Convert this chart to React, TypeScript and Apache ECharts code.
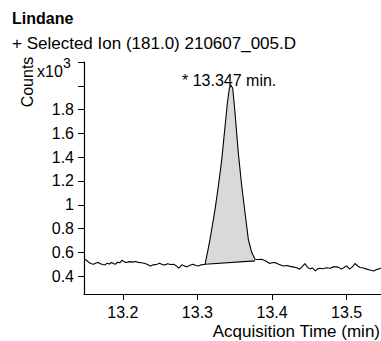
import React, { useEffect, useRef } from "react";
import * as echarts from "echarts";

// Retention time (min) and abundance (x10^3 counts) of the trace
const timeMin = [
  13.149, 13.152, 13.155, 13.158, 13.161, 13.164, 13.167, 13.17, 13.173, 13.176,
  13.179, 13.182, 13.185, 13.188, 13.19, 13.193, 13.196, 13.199, 13.202, 13.205,
  13.209, 13.213, 13.217, 13.221, 13.225, 13.23, 13.233, 13.237, 13.241, 13.246,
  13.249, 13.253, 13.257, 13.26, 13.264, 13.268, 13.271, 13.275, 13.279, 13.282,
  13.286, 13.29, 13.294, 13.298, 13.301, 13.305,
  13.3102, 13.3135, 13.3169, 13.3236, 13.328, 13.3326, 13.337, 13.3401, 13.3428, 13.3446,
  13.3473, 13.3504, 13.3548, 13.3594, 13.3638, 13.3682, 13.3728, 13.3772,
  13.381, 13.386, 13.391, 13.397, 13.4, 13.404, 13.409, 13.415, 13.42, 13.424,
  13.428, 13.433, 13.437, 13.441, 13.444, 13.447, 13.451, 13.454, 13.458, 13.461,
  13.464, 13.468, 13.473, 13.478, 13.482, 13.487, 13.49, 13.493, 13.497, 13.5,
  13.504, 13.508, 13.511, 13.515, 13.518, 13.522, 13.527, 13.531, 13.536, 13.54, 13.546,
];
const countsK = [
  0.542, 0.53, 0.512, 0.505, 0.5, 0.51, 0.515, 0.505, 0.498, 0.495,
  0.508, 0.502, 0.515, 0.505, 0.5, 0.518, 0.512, 0.534, 0.52, 0.515,
  0.522, 0.518, 0.523, 0.516, 0.512, 0.506, 0.498, 0.486, 0.495, 0.5,
  0.508, 0.497, 0.495, 0.505, 0.498, 0.5, 0.49, 0.467, 0.495, 0.488,
  0.478, 0.492, 0.5, 0.49, 0.486, 0.495,
  0.5, 0.6, 0.71, 0.961, 1.156, 1.379, 1.658, 1.853, 1.979, 2.007,
  1.979, 1.77, 1.435, 1.156, 0.933, 0.71, 0.598, 0.542,
  0.54, 0.542, 0.53, 0.506, 0.512, 0.515, 0.5, 0.486, 0.49, 0.482,
  0.478, 0.47, 0.459, 0.485, 0.506, 0.478, 0.459, 0.47, 0.444, 0.46,
  0.467, 0.462, 0.47, 0.467, 0.478, 0.478, 0.47, 0.459, 0.475, 0.486,
  0.459, 0.48, 0.506, 0.485, 0.473, 0.468, 0.459, 0.452, 0.444, 0.455, 0.467,
];

// Integration baseline of the peak
const integrationTime = [13.3102, 13.3772];
const integrationCounts = [0.5, 0.528];

// Axis ticks
const xTicks = [13.2, 13.3, 13.4, 13.5];
const yTicks = [0.4, 0.6, 0.8, 1.0, 1.2, 1.4, 1.6, 1.8, 2.0, 2.2];
const yTickLabels = [0.4, 0.6, 0.8, 1.0, 1.2, 1.4, 1.6, 1.8];

const compoundName = "Lindane";
const ionTitle = "+ Selected Ion (181.0) 210607_005.D";
const peakLabel = "* 13.347 min.";
const yName = "Counts";
const xName = "Acquisition Time (min)";

const FONT = "'Liberation Sans', Arial, sans-serif";

export default function App() {
  const ref = useRef<HTMLDivElement>(null);

  useEffect(() => {
    document.body.style.margin = "0";
    const chart = echarts.init(ref.current as HTMLDivElement, null, { renderer: "svg" });

    const trace = timeMin.map((t, i) => [t, countsK[i]]);
    const peakPts = trace.filter(
      (p) => p[0] >= integrationTime[0] && p[0] <= integrationTime[1]
    );
    const polygonData = [
      ...peakPts,
      [integrationTime[1], integrationCounts[1]],
      [integrationTime[0], integrationCounts[0]],
    ];

    const option: any = {
      animation: false,
      backgroundColor: "#ffffff",
      grid: { left: 84, right: 0, top: 62, bottom: 47, containLabel: false },
      xAxis: {
        type: "value",
        min: 13.148,
        max: 13.546,
        axisLine: { show: true, onZero: false, lineStyle: { color: "#000", width: 1.2 } },
        axisTick: {
          show: true,
          customValues: xTicks,
          length: 6,
          inside: false,
          lineStyle: { color: "#000", width: 1 },
        },
        axisLabel: {
          customValues: xTicks,
          formatter: (v: number) => v.toFixed(1),
          margin: 10,
          color: "#000",
          fontSize: 16,
          fontFamily: FONT,
        },
        splitLine: { show: false },
      },
      yAxis: {
        type: "value",
        min: 0.25,
        max: 2.2,
        axisLine: { show: true, onZero: false, lineStyle: { color: "#000", width: 1.2 } },
        axisTick: {
          show: true,
          customValues: yTicks,
          length: 6,
          inside: false,
          lineStyle: { color: "#000", width: 1 },
        },
        axisLabel: {
          customValues: yTickLabels,
          formatter: (v: number) => String(Number(v.toFixed(1))),
          margin: 10,
          color: "#000",
          fontSize: 16,
          fontFamily: FONT,
        },
        splitLine: { show: false },
      },
      series: [
        {
          type: "custom",
          silent: true,
          z: 1,
          data: [[integrationTime[0], integrationCounts[0]]],
          renderItem: (_params: any, api: any) => ({
            type: "polygon",
            shape: { points: polygonData.map((p) => api.coord(p)) },
            style: { fill: "#d9d9d9", stroke: "none" },
          }),
        },
        {
          type: "line",
          z: 2,
          symbol: "none",
          data: integrationTime.map((t, i) => [t, integrationCounts[i]]),
          lineStyle: { color: "#000", width: 1.2 },
        },
        {
          type: "line",
          z: 3,
          symbol: "none",
          data: trace,
          lineStyle: { color: "#000", width: 1.1 },
        },
      ],
      graphic: [
        {
          type: "text",
          x: 12,
          y: 18.5,
          style: {
            text: compoundName,
            fontSize: 16,
            fontWeight: "bold",
            fontFamily: FONT,
            fill: "#000",
            textVerticalAlign: "middle",
          },
        },
        {
          type: "text",
          x: 12,
          y: 43,
          style: {
            text: ionTitle,
            fontSize: 17,
            fontFamily: FONT,
            fill: "#000",
            textVerticalAlign: "middle",
          },
        },
        {
          type: "text",
          x: 27,
          y: 82,
          rotation: Math.PI / 2,
          style: {
            text: yName,
            fontSize: 16,
            fontFamily: FONT,
            fill: "#000",
            textAlign: "center",
            textVerticalAlign: "middle",
          },
        },
        {
          type: "text",
          x: 37,
          y: 71.5,
          style: {
            text: "x10",
            fontSize: 16,
            fontFamily: FONT,
            fill: "#000",
            textVerticalAlign: "middle",
          },
        },
        {
          type: "text",
          x: 63,
          y: 63,
          style: {
            text: "3",
            fontSize: 14,
            fontFamily: FONT,
            fill: "#000",
            textVerticalAlign: "middle",
          },
        },
        {
          type: "text",
          x: 182,
          y: 80.5,
          style: {
            text: peakLabel,
            fontSize: 16,
            fontFamily: FONT,
            fill: "#000",
            textVerticalAlign: "middle",
          },
        },
        {
          type: "text",
          x: 380,
          y: 331,
          style: {
            text: xName,
            fontSize: 17,
            fontFamily: FONT,
            fill: "#000",
            textAlign: "right",
            textVerticalAlign: "middle",
          },
        },
      ],
    };

    chart.setOption(option);
    return () => chart.dispose();
  }, []);

  return <div ref={ref} style={{ width: 381, height: 341 }} />;
}
